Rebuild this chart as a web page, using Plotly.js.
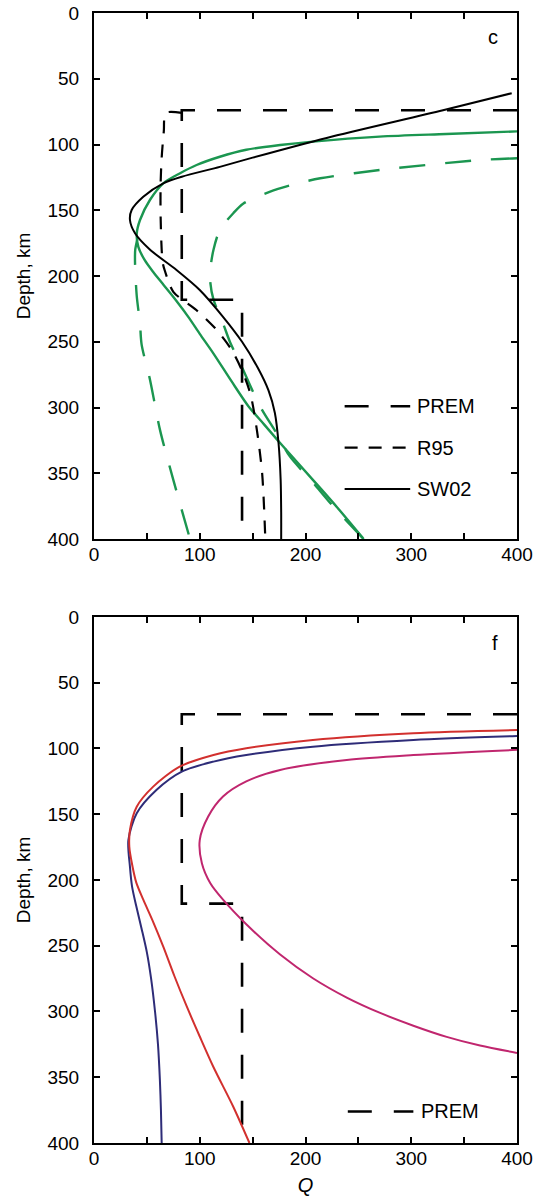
<!DOCTYPE html>
<html>
<head>
<meta charset="utf-8">
<script src="https://cdn.plot.ly/plotly-3.0.1.min.js"></script>
<style>html,body{margin:0;padding:0;background:#fff;}#chart{width:546px;height:1204px;}</style>
</head>
<body>
<div id="chart"></div>
<script>
// ---------- Data (Q vs depth, km) ----------
// Panel c
const premQ = [400, 83, 83, 140, 140];
const premD = [74, 74, 218, 218, 400];

const r95Q = [83, 68, 66, 64, 63, 63, 64, 65, 67, 75, 97, 116, 130, 140, 148, 154, 159, 162];
const r95D = [76, 76, 90, 110, 130, 155, 180, 190, 196, 212, 226, 241, 256, 272, 290, 317, 350, 400];

const sw02Q = [395, 330, 220, 150, 119, 83, 65.5, 46.6, 35.6, 34, 38.8, 53, 78, 100, 122, 140, 155, 165, 171, 174.5, 176.5, 177, 177];
const sw02D = [61, 74, 95, 110, 117, 124.5, 129.5, 139.7, 149.8, 157.4, 167.5, 180, 195.4, 210.6, 231, 250, 270, 287, 304, 327, 355, 380, 400];

const greenSolidQ = [400, 333, 270, 207, 176, 144, 119, 97, 81, 65.5, 53, 43.5, 40.4, 42, 48, 56, 66, 78, 90, 100, 113, 130, 146, 161, 176, 207, 230, 255];
const greenSolidD = [90, 92, 94, 97.8, 100.4, 104, 109.3, 115.6, 122, 129.5, 142, 157.4, 168, 178, 188, 197, 207, 219, 232, 244, 259, 280, 299, 313, 327, 355, 376, 400];

const greenDashRQ = [400, 365, 270, 214, 188, 166, 141, 132, 119, 113, 110, 110, 113, 122, 129, 138, 157, 173, 185, 207, 226, 255];
const greenDashRD = [110.5, 111.8, 119.4, 125.7, 130.5, 136, 145, 152, 165, 180, 195, 205, 218, 236, 251, 266, 299, 320, 337, 357, 375, 400];

const greenDashLQ = [41, 39, 38.8, 40.4, 43.5, 45, 53, 62.4, 75, 90.8];
const greenDashLD = [172, 180, 190, 215, 236, 252, 279, 317, 355, 400];

// Panel f
const redQ = [400, 302, 207, 144, 113, 81, 56, 40.4, 34, 33.4, 36, 40, 46.6, 56, 65.5, 76, 87.6, 100, 112.8, 131.7, 147];
const redD = [86, 88.4, 93.5, 99.8, 105, 113.8, 129, 144.3, 162, 174.7, 188, 202, 215, 232, 250.7, 273, 296, 319, 342, 372.4, 400];

const navyQ = [400, 302, 207, 144, 113, 83, 59, 40.4, 32.5, 34, 36, 40, 45, 50, 54, 57.7, 60.5, 62.3, 63.3, 64];
const navyD = [90.5, 93.5, 98.6, 105, 110, 117.6, 131.6, 149.3, 169.6, 190, 205, 220, 237, 255, 275, 300, 325, 352, 375, 400];

const magQ = [400, 302, 239, 176, 144, 122, 108, 100, 102, 110, 122, 144, 176, 207, 239, 270, 302, 333.5, 365, 400];
const magD = [101, 105, 108.7, 116.3, 125, 136.5, 151.7, 169.6, 187.3, 202.5, 215, 233.7, 256.7, 274.7, 289.4, 300.9, 310.8, 319.3, 325.9, 331.5];

// Axis ticks
const xTickVals = [0, 50, 100, 150, 200, 250, 300, 350, 400];
const xTickText = ['0', '', '100', '', '200', '', '300', '', '400'];
const yTickVals = [0, 50, 100, 150, 200, 250, 300, 350, 400];
const yTickText = ['0', '50', '100', '150', '200', '250', '300', '350', '400'];

// Legend entries
const legTopNames = ['PREM', 'R95', 'SW02'];
const legBotNames = ['PREM'];

// ---------- Styles ----------
const FONT = 'Liberation Sans, Arial, Helvetica, sans-serif';
const GREEN = '#1b9650';
const styles = {
  PREM: {color: '#000', width: 2.6, dash: '24px,22px'},
  R95: {color: '#000', width: 2.2, dash: '13px,11px'},
  SW02: {color: '#000', width: 2, dash: 'solid'}
};

function tr(x, y, xa, ya, line) {
  return {x: x, y: y, xaxis: xa, yaxis: ya, type: 'scatter', mode: 'lines',
          line: Object.assign({shape: 'spline', smoothing: 0.8}, line), hoverinfo: 'skip', showlegend: false};
}
const linear = {shape: 'linear'};

const data = [
  tr(greenDashLQ, greenDashLD, 'x', 'y', {color: GREEN, width: 2.4, dash: '26px,20px'}),
  tr(greenDashRQ, greenDashRD, 'x', 'y', {color: GREEN, width: 2.4, dash: '26px,20px'}),
  tr(greenSolidQ, greenSolidD, 'x', 'y', {color: GREEN, width: 2.4}),
  tr(premQ, premD, 'x', 'y', Object.assign({}, styles.PREM, linear)),
  tr(r95Q, r95D, 'x', 'y', Object.assign({}, styles.R95)),
  tr(sw02Q, sw02D, 'x', 'y', {color: '#000', width: 2}),

  tr(premQ, premD, 'x2', 'y2', Object.assign({}, styles.PREM, linear)),
  tr(magQ, magD, 'x2', 'y2', {color: '#c0266e', width: 2}),
  tr(navyQ, navyD, 'x2', 'y2', {color: '#2e2c78', width: 2}),
  tr(redQ, redD, 'x2', 'y2', {color: '#d2302e', width: 2})
];

// Legends drawn as shapes + annotations in data coordinates
const shapes = [];
const annotations = [];
function addLegend(names, xref, yref, q0, q1, qText, d0, step) {
  names.forEach((n, i) => {
    const d = d0 + i * step;
    const s = styles[n];
    shapes.push({type: 'line', xref: xref, yref: yref, x0: q0, x1: q1, y0: d, y1: d,
                 line: {color: s.color, width: s.width, dash: s.dash}});
    annotations.push({xref: xref, yref: yref, x: qText, y: d, text: n, showarrow: false,
                      xanchor: 'left', yanchor: 'middle', font: {family: FONT, size: 20, color: '#000'}});
  });
}
addLegend(legTopNames, 'x', 'y', 237, 299, 304, 299, 31.5);
addLegend(legBotNames, 'x2', 'y2', 240, 302, 307, 376, 0);

annotations.push({xref: 'x', yref: 'y', x: 377, y: 18, text: 'c', showarrow: false,
                  font: {family: FONT, size: 20, color: '#000'}});
annotations.push({xref: 'x2', yref: 'y2', x: 379, y: 20, text: 'f', showarrow: false,
                  font: {family: FONT, size: 20, color: '#000'}});

function xAxis(anchor, title) {
  return {
    anchor: anchor, range: [0, 400], tickvals: xTickVals, ticktext: xTickText,
    ticks: 'inside', ticklen: 6, tickwidth: 2, tickcolor: '#000',
    showline: true, linewidth: 2, linecolor: '#000', mirror: 'ticks',
    showgrid: false, zeroline: false, ticklabelstandoff: -3,
    tickfont: {family: FONT, size: 19, color: '#000'},
    title: title ? {text: title, font: {family: FONT, size: 20, color: '#000'}, standoff: 10} : {text: ''}
  };
}
function yAxis(anchor, domain) {
  return {
    anchor: anchor, domain: domain, range: [400, 0], tickvals: yTickVals, ticktext: yTickText,
    ticks: 'inside', ticklen: 6, tickwidth: 2, tickcolor: '#000',
    showline: true, linewidth: 2, linecolor: '#000', mirror: 'ticks',
    showgrid: false, zeroline: false, ticklabelstandoff: 9,
    tickfont: {family: FONT, size: 19, color: '#000'},
    title: {text: 'Depth, km', font: {family: FONT, size: 19, color: '#000'}, standoff: 12}
  };
}

const layout = {
  width: 546, height: 1204,
  margin: {l: 94, r: 29, t: 13, b: 61},
  paper_bgcolor: '#fff', plot_bgcolor: '#fff',
  showlegend: false,
  xaxis: xAxis('y', null),
  yaxis: yAxis('x', [0.5345, 1]),
  xaxis2: xAxis('y2', '<i>Q</i>'),
  yaxis2: yAxis('x2', [0, 0.4655]),
  shapes: shapes,
  annotations: annotations
};

Plotly.newPlot('chart', data, layout, {displayModeBar: false, staticPlot: true});
</script>
</body>
</html>
